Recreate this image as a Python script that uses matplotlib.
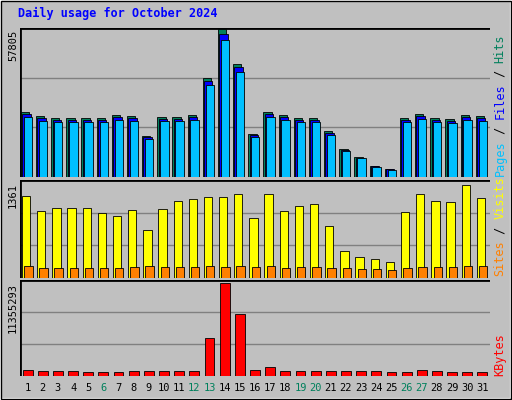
import matplotlib
matplotlib.use("Agg")
import matplotlib.pyplot as plt
import numpy as np

days = list(range(1, 32))
weekend = [6, 12, 13, 19, 20, 26, 27]
hits = [25400, 23800, 23000, 23000, 23000, 23000, 24200, 23800, 16000, 23400, 23400,
        24200, 38700, 57805, 44400, 16800, 25400, 24200, 23000, 23000, 17900, 10900,
        7800, 4300, 3100, 23000, 24600, 23000, 22600, 24200, 23800]
files = [h * 0.97 for h in hits]
pages = [h * 0.93 for h in hits]
visits = [1190, 980, 1020, 1020, 1020, 950, 900, 995, 700, 1005, 1120,
          1150, 1175, 1175, 1230, 870, 1220, 970, 1050, 1080, 760, 390,
          310, 280, 240, 960, 1220, 1130, 1110, 1361, 1160]
sites = [175, 140, 140, 150, 150, 140, 150, 160, 170, 165, 160, 160, 170, 165, 180,
         160, 170, 150, 160, 155, 150, 140, 135, 130, 120, 150, 160, 160, 155, 180, 170]
kbytes = [700000, 560000, 560000, 560000, 480000, 480000, 480000, 560000, 560000, 560000, 560000,
          560000, 4600000, 11355293, 7500000, 700000, 1100000, 650000, 560000, 560000, 560000, 560000,
          560000, 560000, 480000, 480000, 720000, 560000, 480000, 480000, 480000]

W, H = 512, 400
fig = plt.figure(figsize=(W/100, H/100), dpi=100, facecolor="#C0C0C0")
fig.patches.append(plt.Rectangle((0, 0), 1, 1, transform=fig.transFigure, fill=False,
                                 edgecolor="white", linewidth=3))
fig.patches.append(plt.Rectangle((1/W, 1/H), 1-2/W, 1-2/H, transform=fig.transFigure, fill=False,
                                 edgecolor="black", linewidth=1))
mono = "DejaVu Sans Mono"
fig.text(18/W, 1-13/H, "Daily usage for October 2024", color="#0000FF", fontsize=8.5,
         fontweight="bold", family=mono, va="center")

def mkax(top, bot):
    ax = fig.add_axes([20/W, 1-bot/H, (490-20)/W, (bot-top)/H], facecolor="#C0C0C0")
    ax.set_xlim(0.5, 31.5)
    ax.set_xticks([])
    ax.set_yticks([])
    for s in ax.spines.values():
        s.set_visible(False)
    return ax

def ylab(top_px, s):
    fig.text(13/W, 1-top_px/H, s, rotation=90, ha="center", va="top", fontsize=7.5, family=mono)

x = np.array(days)
ax1 = mkax(28, 177)
t1 = 57805 * 1.01
ax1.set_ylim(0, t1)
for g in [t1/3, 2*t1/3]:
    ax1.axhline(g, color="#808080", lw=1, zorder=0)
ax1.plot([0.5, 0.5, 31.5], [0, t1, t1], color="black", lw=2)
ax1.bar(x - 0.17, hits, width=0.55, color="#00805C", edgecolor="black", lw=0.6, zorder=2)
ax1.bar(x - 0.08, files, width=0.55, color="#0000FF", edgecolor="black", lw=0.6, zorder=3)
ax1.bar(x + 0.02, pages, width=0.55, color="#00C0FF", edgecolor="black", lw=0.6, zorder=4)
ylab(30, "57805")

ax2 = mkax(180, 278)
t2 = 1361 * 1.05
ax2.set_ylim(0, t2)
for g in [t2/3, 2*t2/3]:
    ax2.axhline(g, color="#808080", lw=1, zorder=0)
ax2.plot([0.5, 0.5, 31.5], [0, t2, t2], color="black", lw=2)
ax2.bar(x - 0.1, visits, width=0.55, color="#FFFF00", edgecolor="black", lw=0.6, zorder=2)
ax2.bar(x + 0.05, sites, width=0.55, color="#FF8000", edgecolor="black", lw=0.6, zorder=3)
ylab(183, "1361")

ax3 = mkax(280, 376)
t3 = 11355293 * 1.03
ax3.set_ylim(0, t3)
for g in [t3/3, 2*t3/3]:
    ax3.axhline(g, color="#808080", lw=1, zorder=0)
ax3.plot([0.5, 0.5, 31.5], [0, t3, t3], color="black", lw=2)
ax3.bar(x, kbytes, width=0.65, color="#FF0000", edgecolor="black", lw=0.6, zorder=2)
ylab(283, "11355293")

for d in days:
    xf = (20 + (d - 0.5) / 31 * 470) / W
    fig.text(xf, 1-388/H, str(d), ha="center", va="center", fontsize=7.5, family=mono,
             color="#00805C" if d in weekend else "black")

FS = 8.5
def rlabel(ybot, parts):
    ch = 0.6 * FS * 100 / 72
    y = ybot
    for p, c in parts:
        fig.text(500/W, 1-(y - len(p)*ch/2)/H, p, rotation=90, ha="center", va="center",
                 fontsize=FS, family=mono, color=c)
        y -= len(p) * ch

rlabel(176, [("Pages", "#00C0FF"), (" / ", "black"), ("Files", "#0000FF"), (" / ", "black"), ("Hits", "#00805C")])
rlabel(276, [("Sites", "#FF8000"), (" / ", "black"), ("Visits", "#FFFF00")])
rlabel(376, [("KBytes", "#FF0000")])

fig.savefig("out.png", dpi=100, facecolor=fig.get_facecolor())
